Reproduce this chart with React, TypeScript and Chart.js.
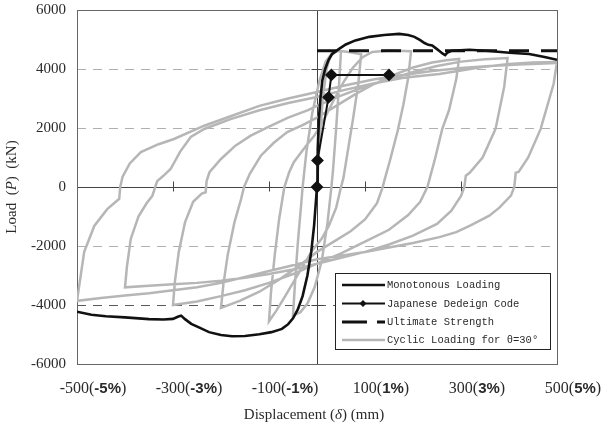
import React, { useEffect, useRef } from 'react';
import { Chart, registerables } from 'chart.js';

Chart.register(...registerables);

// ---- axis values ----
const X_TICKS = [-500, -300, -100, 100, 300, 500];
const X_TICK_PCT = ['-5%', '-3%', '-1%', '1%', '3%', '5%'];
const X_ZERO_TICKS = [-300, -100, 100, 300];
const Y_ZERO_TICKS = [-4000, -2000, 2000, 4000];
const Y_GRID = [-4000, -2000, 2000, 4000];

// ---- series (displacement mm, load kN) ----
const MONO: number[][] = [
  [-500, -4230], [-470, -4330], [-440, -4380], [-400, -4420], [-350, -4480], [-320, -4490], [-300, -4470],
  [-290, -4400], [-283, -4360], [-275, -4480], [-262, -4640], [-246, -4760], [-225, -4920], [-200, -5020],
  [-177, -5060], [-150, -5050], [-120, -4990], [-95, -4920], [-73, -4810], [-60, -4650], [-50, -4450],
  [-40, -4150], [-30, -3700], [-20, -3000], [-12, -2200], [-6, -1300], [0, 0], [1.5, 1290], [4, 2300],
  [7, 2980], [11, 3600], [17, 4000], [24, 4300], [31, 4500], [46, 4680], [60, 4830], [80, 4970], [109, 5090],
  [140, 5150], [171, 5190], [190, 5150], [203, 5090], [215, 4980], [224, 4880], [232, 4820], [240, 4800],
  [248, 4700], [255, 4610], [262, 4520], [267, 4470], [272, 4560], [280, 4620], [317, 4650], [359, 4610],
  [401, 4550], [442, 4510], [474, 4410], [500, 4310],
];

const JDC: number[][] = [[0, 0], [1, 900], [24, 3040], [30, 3800], [150, 3800]];

const ULTIMATE: number[][] = [[0, 4620], [500, 4620]];

const CYCLIC: number[][] = [
  [0, 0], [5, 1500], [12, 3000], [20, 4000], [28, 4450], [40, 4600], [50, 4600],
  [46, 3500], [40, 2000], [33, 500], [30, 0], [22, -1200], [10, -2500], [-5, -3400], [-20, -3950], [-35, -4250], [-50, -4350],
  [-46, -3300], [-40, -1900], [-33, -600], [-30, 0], [-22, 1200], [-10, 2500], [5, 3600], [18, 4250], [32, 4550], [45, 4620], [70, 4570], [92, 4500],
  [86, 3500], [75, 2300], [63, 1100], [55, 300], [50, 0], [40, -700], [25, -1300], [10, -1750], [-10, -2150], [-30, -2700], [-50, -3250], [-70, -3800], [-85, -4200], [-100, -4550],
  [-96, -3600], [-88, -2300], [-79, -1100], [-72, -400], [-68, 0], [-58, 500], [-48, 850], [-25, 1350], [-5, 1750], [15, 2300], [35, 2950], [55, 3550], [75, 4050], [95, 4400], [115, 4580], [150, 4630], [196, 4600],
  [190, 3700], [180, 2800], [168, 1900], [152, 900], [140, 200], [137, 0], [125, -550], [100, -1100], [70, -1500], [35, -1850], [0, -2200], [-40, -2700], [-80, -3150], [-120, -3550], [-160, -3850], [-200, -4100],
  [-195, -3300], [-186, -2300], [-172, -1200], [-158, -400], [-152, 0], [-140, 450], [-117, 1060], [-90, 1500], [-62, 1860], [-30, 2100], [0, 2350], [40, 2750], [80, 3150], [120, 3500], [160, 3800], [200, 4050], [240, 4220], [270, 4300], [296, 4340],
  [290, 3650], [275, 2600], [261, 1970], [245, 900], [235, 300], [230, 0], [215, -500], [190, -950], [150, -1450], [100, -1850], [50, -2250], [0, -2600], [-50, -2950], [-100, -3250], [-150, -3500], [-200, -3700], [-250, -3880], [-300, -4000],
  [-296, -3200], [-288, -2200], [-275, -1200], [-258, -500], [-240, -220], [-232, -180], [-230, 200], [-224, 500], [-200, 950], [-170, 1400], [-138, 1740], [-100, 2050], [-60, 2350], [-20, 2600], [0, 2750], [50, 3100], [100, 3400], [150, 3650], [200, 3900], [250, 4100], [300, 4250], [350, 4330], [397, 4370],
  [390, 3400], [372, 1970], [345, 1000], [318, 480], [310, 380], [307, 0], [300, -300], [280, -800], [250, -1250], [200, -1650], [150, -1950], [100, -2200], [50, -2400], [0, -2600], [-50, -2800], [-100, -2950], [-150, -3080], [-200, -3180], [-250, -3250], [-300, -3300], [-350, -3350], [-400, -3400],
  [-396, -2700], [-388, -1760], [-372, -1000], [-355, -550], [-343, -300], [-337, 0], [-333, 200], [-320, 380], [-305, 610], [-285, 1200], [-263, 1695], [-235, 1966], [-180, 2300], [-120, 2600], [-60, 2850], [0, 3050], [60, 3300], [120, 3520], [180, 3700], [255, 3830], [300, 3950], [350, 4080], [400, 4170], [450, 4220], [500, 4240],
  [493, 3500], [466, 1970], [440, 1000], [420, 508], [414, 480], [411, 0], [404, -294], [380, -700], [359, -970], [320, -1300], [290, -1530], [255, -1700], [200, -1900], [150, -2050], [100, -2200], [50, -2330], [0, -2450], [-50, -2650], [-100, -2850], [-150, -3050], [-200, -3250], [-250, -3400], [-300, -3500], [-350, -3600], [-400, -3680], [-450, -3760], [-500, -3860],
  [-485, -2200], [-464, -1320], [-437, -750], [-412, -400], [-410, 0], [-405, 350], [-390, 800], [-367, 1186], [-330, 1450], [-298, 1627], [-235, 2078], [-180, 2400], [-120, 2750], [-60, 3000], [0, 3220], [60, 3450], [120, 3650], [180, 3800], [240, 3930], [300, 4030], [360, 4100], [420, 4150], [500, 4200],
];

const LEGEND_LABELS = ['Monotonous Loading', 'Japanese Dedeign Code', 'Ultimate Strength', 'Cyclic Loading for \u03b8=30\u00b0'];

const SERIF = '"Liberation Serif", "DejaVu Serif", serif';
const SANS = '"Liberation Sans", Arial, sans-serif';
const MONOFONT = '"Liberation Mono", "DejaVu Sans Mono", monospace';
const TEXT = '#2a2a2a';
const GRAY = '#b6b6b6';

const toXY = (arr: number[][]) => arr.map(([x, y]) => ({ x, y }));

type Part = { t: string; f: string };
function drawParts(ctx: CanvasRenderingContext2D, parts: Part[], cx: number, cy: number) {
  let w = 0;
  for (const p of parts) { ctx.font = p.f; w += ctx.measureText(p.t).width; }
  let x = cx - w / 2;
  ctx.textAlign = 'left';
  ctx.textBaseline = 'middle';
  for (const p of parts) {
    ctx.font = p.f;
    ctx.fillText(p.t, x, cy);
    x += ctx.measureText(p.t).width;
  }
}

const decor = {
  id: 'decor',
  beforeDatasetsDraw(chart: any) {
    const { ctx, chartArea: a, scales } = chart;
    const xs = scales.x, ys = scales.y;
    ctx.save();
    ctx.lineWidth = 1;
    for (const v of Y_GRID) {
      const py = Math.round(ys.getPixelForValue(v)) + 0.5;
      ctx.strokeStyle = v === -4000 ? '#5a5a5a' : '#b0b0b0';
      ctx.setLineDash([9, 7]);
      ctx.beginPath(); ctx.moveTo(a.left, py); ctx.lineTo(a.right, py); ctx.stroke();
    }
    ctx.setLineDash([]);
    ctx.strokeStyle = '#444';
    const x0 = Math.round(xs.getPixelForValue(0)) + 0.5;
    const y0 = Math.round(ys.getPixelForValue(0)) + 0.5;
    ctx.beginPath(); ctx.moveTo(x0, a.top); ctx.lineTo(x0, a.bottom); ctx.stroke();
    ctx.beginPath(); ctx.moveTo(a.left, y0); ctx.lineTo(a.right, y0); ctx.stroke();
    for (const v of X_ZERO_TICKS) {
      const px = Math.round(xs.getPixelForValue(v)) + 0.5;
      ctx.beginPath(); ctx.moveTo(px, y0 - 6); ctx.lineTo(px, y0 + 4); ctx.stroke();
    }
    for (const v of Y_ZERO_TICKS) {
      const py = Math.round(ys.getPixelForValue(v)) + 0.5;
      ctx.beginPath(); ctx.moveTo(x0 - 6, py); ctx.lineTo(x0 + 6, py); ctx.stroke();
    }
    ctx.strokeStyle = '#666';
    ctx.strokeRect(Math.round(a.left) + 0.5, Math.round(a.top) + 0.5, Math.round(a.right - a.left), Math.round(a.bottom - a.top));
    ctx.restore();
  },
  afterDraw(chart: any) {
    const { ctx, scales } = chart;
    const xs = scales.x;
    ctx.save();
    ctx.fillStyle = TEXT;
    X_TICKS.forEach((v, i) => {
      const cx = xs.getPixelForValue(v) + 16;
      drawParts(ctx, [
        { t: String(v) + '(', f: `16px ${SERIF}` },
        { t: X_TICK_PCT[i], f: `bold 15px ${SANS}` },
        { t: ')', f: `16px ${SERIF}` },
      ], cx, 389);
    });
    drawParts(ctx, [
      { t: 'Displacement (', f: `15px ${SERIF}` },
      { t: '\u03b4', f: `italic 15px ${SERIF}` },
      { t: ') (mm)', f: `15px ${SERIF}` },
    ], 314, 415);
    ctx.save();
    ctx.translate(12, 187);
    ctx.rotate(-Math.PI / 2);
    drawParts(ctx, [
      { t: 'Load  (', f: `15px ${SERIF}` },
      { t: 'P', f: `italic 15px ${SERIF}` },
      { t: ')  (kN)', f: `15px ${SERIF}` },
    ], 0, 0);
    ctx.restore();

    const ds = chart.data.datasets;
    const bx = 335.5, by = 273.5, bw = 215, bh = 76;
    ctx.fillStyle = '#fff';
    ctx.fillRect(bx, by, bw, bh);
    ctx.strokeStyle = '#222';
    ctx.lineWidth = 1;
    ctx.strokeRect(bx, by, bw, bh);
    const rows = [285, 303.5, 322, 340];
    ds.forEach((d: any, i: number) => {
      const y = rows[i];
      ctx.save();
      ctx.strokeStyle = d.borderColor;
      ctx.lineWidth = d.borderWidth;
      ctx.setLineDash(i === 2 ? [25, 10] : []);
      ctx.beginPath(); ctx.moveTo(342, y); ctx.lineTo(385, y); ctx.stroke();
      ctx.setLineDash([]);
      if (i === 1) {
        ctx.fillStyle = '#111';
        ctx.beginPath();
        ctx.moveTo(363, y - 3.5); ctx.lineTo(366.5, y); ctx.lineTo(363, y + 3.5); ctx.lineTo(359.5, y);
        ctx.closePath(); ctx.fill();
      }
      ctx.restore();
      ctx.fillStyle = TEXT;
      ctx.font = `10.5px ${MONOFONT}`;
      ctx.textAlign = 'left';
      ctx.textBaseline = 'middle';
      ctx.fillText(d.label, 387, y + 0.5);
    });
    ctx.restore();
  },
};

export default function App() {
  const ref = useRef<HTMLCanvasElement | null>(null);
  useEffect(() => {
    if (!ref.current) return;
    const chart = new Chart(ref.current, {
      type: 'scatter',
      data: {
        datasets: [
          {
            label: LEGEND_LABELS[0], data: toXY(MONO), showLine: true, borderColor: '#111', borderWidth: 2.6,
            pointRadius: 0, tension: 0,
          },
          {
            label: LEGEND_LABELS[1], data: toXY(JDC), showLine: true, borderColor: '#111', borderWidth: 2,
            pointRadius: 5, pointStyle: 'rectRot', pointBackgroundColor: '#111', pointBorderColor: '#111', tension: 0,
          },
          {
            label: LEGEND_LABELS[2], data: toXY(ULTIMATE), showLine: true, borderColor: '#111', borderWidth: 3,
            borderDash: [20, 12], pointRadius: 0,
          },
          {
            label: LEGEND_LABELS[3], data: toXY(CYCLIC), showLine: true, borderColor: GRAY, borderWidth: 2.5,
            pointRadius: 0, tension: 0,
          },
        ] as any,
      },
      options: {
        animation: false,
        responsive: false,
        maintainAspectRatio: false,
        layout: { padding: { top: 10, right: 45, left: 0, bottom: 0 } },
        plugins: { legend: { display: false }, tooltip: { enabled: false }, title: { display: false } },
        scales: {
          x: {
            type: 'linear', min: -500, max: 500,
            grid: { display: false, drawTicks: false },
            border: { display: false },
            ticks: { display: false },
            afterFit: (s: any) => { s.height = 67; s.paddingLeft = 0; s.paddingRight = 0; },
          },
          y: {
            type: 'linear', min: -6000, max: 6000,
            grid: { display: false, drawTicks: false },
            border: { display: false },
            ticks: {
              stepSize: 2000, padding: 11, color: TEXT,
              font: { family: '"Liberation Serif", serif', size: 15 },
              callback: (v: any) => String(v),
            },
            afterFit: (s: any) => { s.width = 77; s.paddingTop = 0; s.paddingBottom = 0; },
          },
        },
      } as any,
      plugins: [decor],
    });
    return () => chart.destroy();
  }, []);
  return (
    <div style={{ position: 'absolute', left: 0, top: 0, width: 602, height: 431, background: '#fff' }}>
      <canvas ref={ref} width={602} height={431} style={{ display: 'block' }} />
    </div>
  );
}
